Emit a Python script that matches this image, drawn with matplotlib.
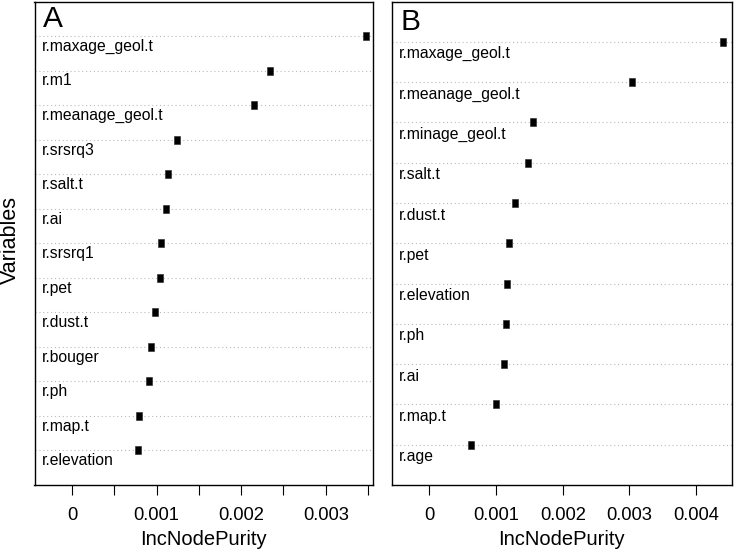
import matplotlib
matplotlib.use("Agg")
import matplotlib.pyplot as plt
from matplotlib.path import Path

plt.rcParams['font.family'] = ['Liberation Sans', 'DejaVu Sans']

# Panel A (top to bottom)
vars_a = ["r.maxage_geol.t", "r.m1", "r.meanage_geol.t", "r.srsrq3", "r.salt.t",
          "r.ai", "r.srsrq1", "r.pet", "r.dust.t", "r.bouger", "r.ph",
          "r.map.t", "r.elevation"]
vals_a = [0.003475, 0.002344, 0.002148, 0.001241, 0.001131, 0.001111,
          0.001056, 0.001040, 0.000981, 0.000930, 0.000914, 0.000796, 0.000780]

# Panel B (top to bottom)
vars_b = ["r.maxage_geol.t", "r.meanage_geol.t", "r.minage_geol.t", "r.salt.t",
          "r.dust.t", "r.pet", "r.elevation", "r.ph", "r.ai", "r.map.t", "r.age"]
vals_b = [0.004399, 0.003044, 0.001555, 0.001475, 0.001285, 0.001190,
          0.001160, 0.001155, 0.001120, 0.001000, 0.000620]

ticks_a = [0, 0.0005, 0.001, 0.0015, 0.002, 0.0025, 0.003, 0.0035]
ticklabels_a = ["0", "", "0.001", "", "0.002", "", "0.003", ""]
ticks_b = [0, 0.001, 0.002, 0.003, 0.004]
ticklabels_b = ["0", "0.001", "0.002", "0.003", "0.004"]

W, H = 737, 554
fig = plt.figure(figsize=(W / 100, H / 100), dpi=100)

rect_marker = Path([(-0.7, -1), (0.7, -1), (0.7, 1), (-0.7, 1), (-0.7, -1)],
                   [Path.MOVETO, Path.LINETO, Path.LINETO, Path.LINETO,
                    Path.CLOSEPOLY])


def panel(rect_px, names, vals, xlim, ticks, ticklabels, letter):
    l, r, t, b = rect_px
    ax = fig.add_axes([l / W, 1 - b / H, (r - l) / W, (b - t) / H])
    n = len(names)
    ys = list(range(n, 0, -1))
    for y in ys:
        ax.axhline(y, color="#bbbbbb", lw=0.8, ls=(0, (1, 2.5)), zorder=1)
    ax.scatter(vals, ys, marker=rect_marker, s=36, color="black",
               edgecolors="#222222", linewidths=0.4, zorder=3)
    for name, y in zip(names, ys):
        ax.text(0.021, y - 0.3, name, transform=ax.get_yaxis_transform(),
                ha="left", va="center", fontsize=11.3)
    ax.text(0.025, n + 0.5, letter, transform=ax.get_yaxis_transform(),
            ha="left", va="center", fontsize=21.5)
    ax.set_xlim(*xlim)
    ax.set_ylim(0, n + 1)
    ax.set_yticks([])
    ax.set_xticks(ticks)
    ax.set_xticklabels(ticklabels, fontsize=13.2)
    ax.tick_params(axis="x", direction="out", length=7, width=0.8, pad=9,
                   color="black")
    for s in ax.spines.values():
        s.set_linewidth(1.0)
        s.set_color("black")
    ax.set_xlabel("IncNodePurity", fontsize=14.5, labelpad=4)
    return ax


axA = panel((34.5, 373, 1.5, 485), vars_a, vals_a,
            (-0.000443, 0.003558), ticks_a, ticklabels_a, "A")
axB = panel((391.7, 731.7, 1.5, 485), vars_b, vals_b,
            (-0.000564, 0.004534), ticks_b, ticklabels_b, "B")

fig.text(10 / W, 1 - 240 / H, "Variables", rotation=90, ha="center",
         va="center", fontsize=15.5)

fig.savefig("out.png", dpi=100)
